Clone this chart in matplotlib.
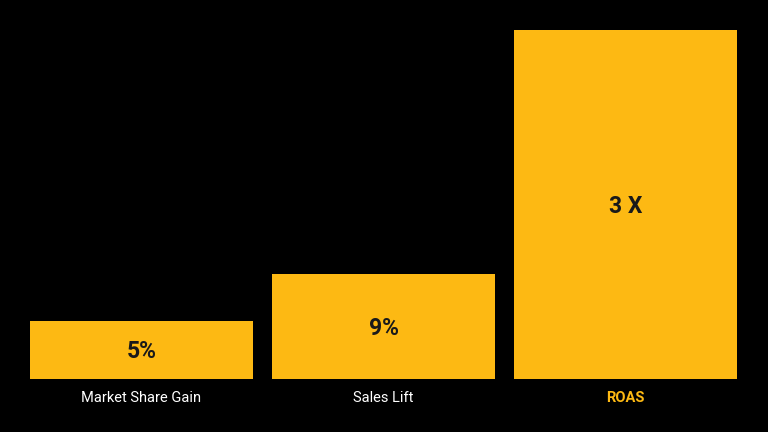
import matplotlib.pyplot as plt

# Chart data
categories = ["Market Share Gain", "Sales Lift", "ROAS"]
values = [5, 9, 30]
value_labels = ["5%", "9%", "3 X"]

bar_color = "#FDB913"
bar_width = 0.921

fig = plt.figure(figsize=(7.68, 4.32), dpi=100, facecolor="black")
ax = fig.add_axes([30 / 768, 53 / 432, 707 / 768, 349 / 432])
ax.set_facecolor("black")

x = range(len(categories))
bars = ax.bar(x, values, width=bar_width, color=bar_color)

ax.set_xlim(-bar_width / 2, len(categories) - 1 + bar_width / 2)
ax.set_ylim(0, max(values))

# Value labels in the middle of each bar
for bar, lab in zip(bars, value_labels):
    ax.annotate(lab, (bar.get_x() + bar.get_width() / 2, bar.get_height() / 2),
                xytext=(0, -1.5), textcoords="offset points",
                ha="center", va="center", fontsize=16.5, fontweight="bold",
                color="#1a1a1a", family="Roboto")

# Category labels
ax.set_xticks(list(x))
ax.set_xticklabels(categories, fontsize=10.5, family="Roboto", color="white")
ax.tick_params(axis="x", length=0, pad=9)
ax.get_xticklabels()[-1].set_color(bar_color)
ax.get_xticklabels()[-1].set_fontweight("bold")
ax.set_yticks([])
for s in ax.spines.values():
    s.set_visible(False)

plt.savefig("out.png", dpi=100, facecolor="black")
